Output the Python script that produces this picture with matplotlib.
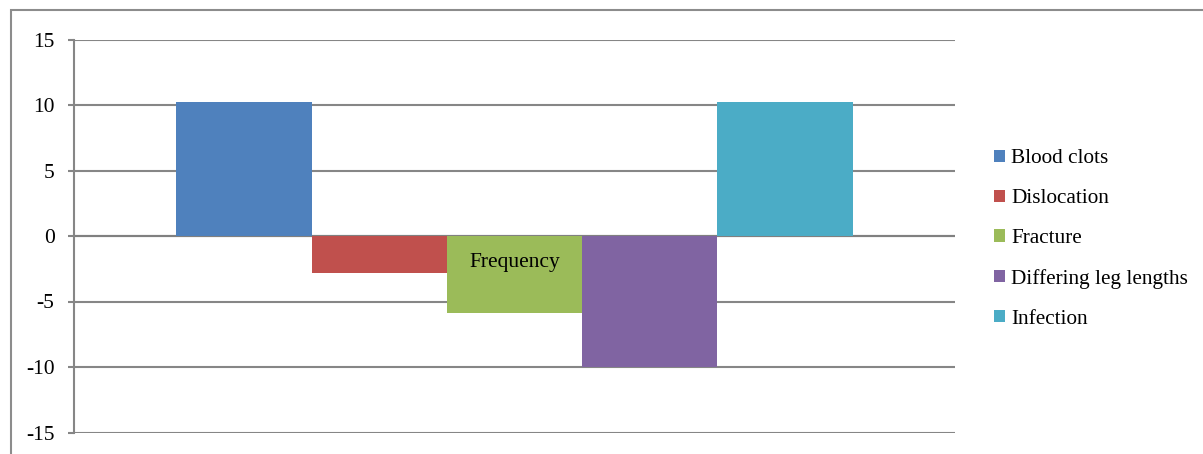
import matplotlib.pyplot as plt
from matplotlib.patches import Rectangle
import numpy as np

plt.rcParams['font.family'] = ['Liberation Serif', 'DejaVu Serif']
plt.rcParams['axes.unicode_minus'] = False

series = ['Blood clots', 'Dislocation', 'Fracture', 'Differing leg lengths', 'Infection']
values = [10.2, -2.8, -5.9, -10, 10.2]
colors = ['#4F81BD', '#C0504D', '#9BBB59', '#8064A2', '#4BACC6']
category = 'Frequency'
yticks = [-15, -10, -5, 0, 5, 10, 15]

fig = plt.figure(figsize=(12.03, 4.54), dpi=100)
# outer chart frame (cropped at right/bottom in the reference)
fig.patches.append(Rectangle((11 / 1203, -0.1), 1.2, 1.1 - 10 / 454,
                             transform=fig.transFigure, fill=False,
                             edgecolor='#8c8c8c', linewidth=1.5))

ax = fig.add_axes([74 / 1203, 1 - 432.5 / 454, 881 / 1203, 393 / 454])

w = 0.1535
pos = (np.arange(len(series)) - 2) * w
for p, v, c, name in zip(pos, values, colors, series):
    ax.bar(p, v, width=w, color=c, label=name, zorder=3)

ax.set_xlim(-0.5, 0.5)
ax.set_ylim(-15, 15)
ax.set_yticks(yticks)
ax.set_xticks([])
ax.yaxis.grid(True, color='#868686', linewidth=1.5, zorder=0)
ax.axhline(0, color='#808080', linewidth=1.5, zorder=2)
for s in ['top', 'right', 'bottom']:
    ax.spines[s].set_visible(False)
ax.spines['left'].set_color('#868686')
ax.spines['left'].set_linewidth(1.5)
ax.tick_params(axis='y', length=4, width=1.5, color='#868686', pad=10,
               labelsize=15.5)

ax.text(0, -2.0, category, ha='center', va='center', fontsize=15.5, zorder=4)

leg = ax.legend(loc='center left', bbox_to_anchor=(994 / 1203, 1 - 239 / 454),
                bbox_transform=fig.transFigure, frameon=False, fontsize=15.3,
                handlelength=0.5, handleheight=0.5, handletextpad=0.3,
                labelspacing=0.98, borderaxespad=0, borderpad=0)

fig.savefig('out.png', dpi=100)
